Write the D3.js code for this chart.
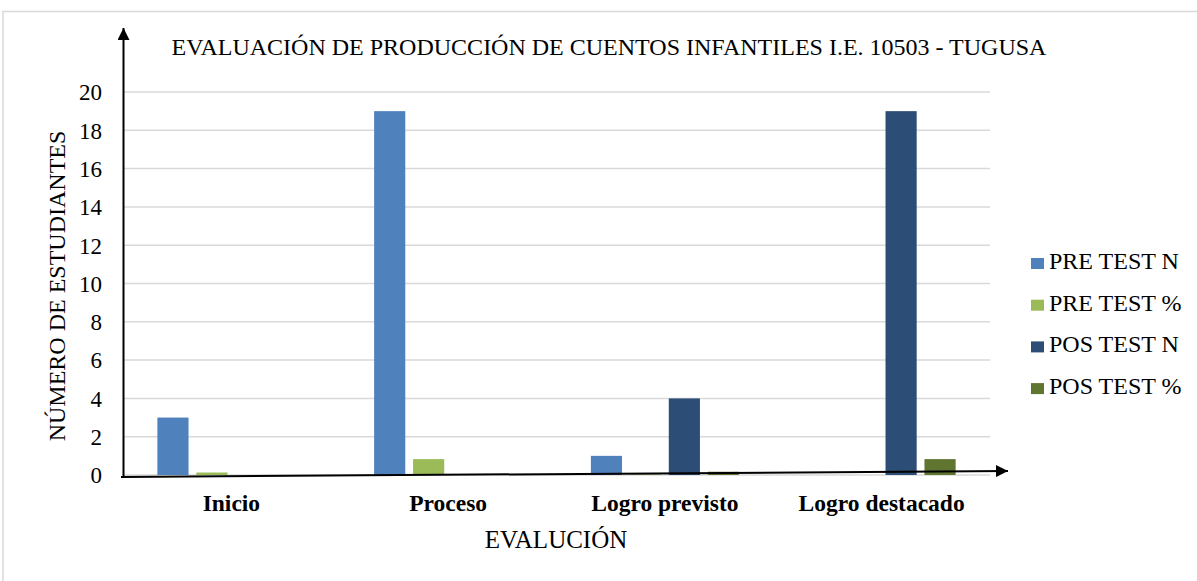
<!DOCTYPE html>
<html>
<head>
<meta charset="utf-8">
<script src="https://cdn.jsdelivr.net/npm/d3@7"></script>
<style>
  body { margin: 0; background: #fff; }
  svg text { font-family: "Liberation Serif", "Times New Roman", serif; fill: #000; }
</style>
</head>
<body>
<svg id="chart" width="1197" height="581"></svg>
<script>
// data
const categories = ["Inicio", "Proceso", "Logro previsto", "Logro destacado"];
const seriesNames = ["PRE TEST N", "PRE TEST %", "POS TEST N", "POS TEST %"];
const preTestN = [3, 19, 1, 0];
const preTestPct = [0.13, 0.83, 0.04, 0];
const posTestN = [0, 0, 4, 19];
const posTestPct = [0, 0, 0.17, 0.83];
const yTicks = [0, 2, 4, 6, 8, 10, 12, 14, 16, 18, 20];
const colors = ["#4f81bd", "#9bbb59", "#2c4d75", "#5f7530"];

const series = [preTestN, preTestPct, posTestN, posTestPct];
const serif = '"Liberation Serif", "Times New Roman", serif';

const svg = d3.select("#chart");

// outer frame (only top and left edges visible)
svg.append("path")
    .attr("d", "M3,581 V11.5 H1197")
    .attr("fill", "none")
    .attr("stroke", "#d9d9d9")
    .attr("stroke-width", 1.5);

// scales
let x = d3.scaleBand().domain(categories).range([123, 990]);
let xs = d3.scaleBand().domain(seriesNames).range([0, 148]).paddingInner(0.2);
let y = d3.scaleLinear().domain([0, 20]).range([475, 92]);

// gridlines
svg.append("g")
    .selectAll("line")
    .data(yTicks)
    .enter()
    .append("line")
    .attr("x1", 123)
    .attr("x2", 990)
    .attr("y1", d => y(d))
    .attr("y2", d => y(d))
    .attr("stroke", "#d9d9d9")
    .attr("stroke-width", 1.5);

// bars
series.forEach((vals, i) => {
    svg.append("g")
        .selectAll("rect")
        .data(vals)
        .enter()
        .append("rect")
        .attr("x", (d, j) => x(categories[j]) + (x.bandwidth() - 148) / 2 + xs(seriesNames[i]))
        .attr("y", d => y(d))
        .attr("width", xs.bandwidth())
        .attr("height", d => y(0) - y(d))
        .attr("fill", colors[i]);
});

// y tick labels
const yAxis = svg.append("g")
    .attr("transform", "translate(112,0)")
    .call(d3.axisLeft(y).tickValues(yTicks).tickSize(0).tickPadding(10));
yAxis.select(".domain").remove();
yAxis.attr("font-family", null);
yAxis.selectAll("text")
    .style("font-family", serif)
    .style("font-size", "23px")
    .attr("dy", "0.34em");

// x category labels
const xAxis = svg.append("g")
    .attr("transform", "translate(0,494)")
    .call(d3.axisBottom(x).tickSize(0).tickPadding(0));
xAxis.select(".domain").remove();
xAxis.attr("font-family", null);
xAxis.selectAll("text")
    .style("font-family", serif)
    .style("font-size", "23.5px")
    .style("font-weight", "bold")
    .attr("dy", "0.71em");

// arrow marker
const defs = svg.append("defs");
defs.append("marker")
    .attr("id", "arrow")
    .attr("viewBox", "0 0 10 10")
    .attr("refX", 10)
    .attr("refY", 5)
    .attr("markerWidth", 7)
    .attr("markerHeight", 6)
    .attr("markerUnits", "strokeWidth")
    .attr("orient", "auto")
    .append("path")
    .attr("d", "M0,0 L10,5 L0,10 Z")
    .attr("fill", "#000");

// y axis arrow line
svg.append("line")
    .attr("x1", 123.5).attr("y1", y(0) + 3)
    .attr("x2", 123.5).attr("y2", 28)
    .attr("stroke", "#000")
    .attr("stroke-width", 2)
    .attr("marker-end", "url(#arrow)");

// x axis arrow line (slightly tilted, as drawn in the source)
svg.append("line")
    .attr("x1", 121).attr("y1", y(0) + 2)
    .attr("x2", 1008).attr("y2", y(0) - 4)
    .attr("stroke", "#000")
    .attr("stroke-width", 2)
    .attr("marker-end", "url(#arrow)");

// title
svg.append("text")
    .attr("x", 609)
    .attr("y", 55)
    .attr("text-anchor", "middle")
    .style("font-family", serif)
    .style("font-size", "24px")
    .text("EVALUACIÓN DE PRODUCCIÓN DE CUENTOS INFANTILES I.E. 10503 - TUGUSA");

// axis titles
svg.append("text")
    .attr("transform", "translate(65,286) rotate(-90)")
    .attr("text-anchor", "middle")
    .style("font-family", serif)
    .style("font-size", "24px")
    .text("NÚMERO DE ESTUDIANTES");

svg.append("text")
    .attr("x", 556)
    .attr("y", 548)
    .attr("text-anchor", "middle")
    .style("font-family", serif)
    .style("font-size", "25px")
    .text("EVALUCIÓN");

// legend
const legend = svg.append("g")
    .selectAll("g")
    .data(seriesNames)
    .enter()
    .append("g")
    .attr("transform", (d, i) => `translate(1031, ${258 + i * 41.7})`);
legend.append("rect")
    .attr("width", 13)
    .attr("height", 11)
    .attr("fill", (d, i) => colors[i]);
legend.append("text")
    .attr("x", 18)
    .attr("y", 11)
    .style("font-family", serif)
    .style("font-size", "24px")
    .text(d => d);
</script>
</body>
</html>
